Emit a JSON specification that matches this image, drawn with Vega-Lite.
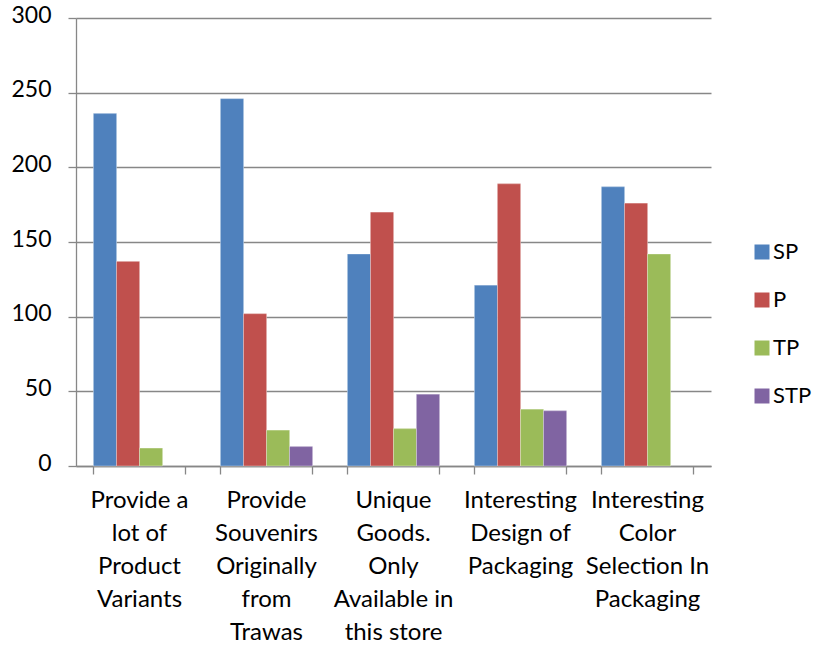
{
  "$schema": "https://vega.github.io/schema/vega-lite/v6.json",
  "autosize": {"type": "none"},
  "padding": {"left": 76, "top": 18, "right": 104, "bottom": 179},
  "width": 635,
  "height": 448,
  "background": "#ffffff",
  "config": {
    "view": {"stroke": null},
    "font": "Lato",
    "axis": {"labelFont": "Lato", "labelColor": "#000000", "titleFont": "Lato"},
    "legend": {"labelFont": "Lato"}
  },
  "data": {
    "values": [
      {"item": "Provide a|lot of|Product|Variants", "rating": "SP", "count": 236},
      {"item": "Provide a|lot of|Product|Variants", "rating": "P", "count": 137},
      {"item": "Provide a|lot of|Product|Variants", "rating": "TP", "count": 12},
      {"item": "Provide|Souvenirs|Originally|from|Trawas", "rating": "SP", "count": 246},
      {"item": "Provide|Souvenirs|Originally|from|Trawas", "rating": "P", "count": 102},
      {"item": "Provide|Souvenirs|Originally|from|Trawas", "rating": "TP", "count": 24},
      {"item": "Provide|Souvenirs|Originally|from|Trawas", "rating": "STP", "count": 13},
      {"item": "Unique|Goods.|Only|Available in|this store", "rating": "SP", "count": 142},
      {"item": "Unique|Goods.|Only|Available in|this store", "rating": "P", "count": 170},
      {"item": "Unique|Goods.|Only|Available in|this store", "rating": "TP", "count": 25},
      {"item": "Unique|Goods.|Only|Available in|this store", "rating": "STP", "count": 48},
      {"item": "Interesting|Design of|Packaging", "rating": "SP", "count": 121},
      {"item": "Interesting|Design of|Packaging", "rating": "P", "count": 189},
      {"item": "Interesting|Design of|Packaging", "rating": "TP", "count": 38},
      {"item": "Interesting|Design of|Packaging", "rating": "STP", "count": 37},
      {"item": "Interesting|Color|Selection In|Packaging", "rating": "SP", "count": 187},
      {"item": "Interesting|Color|Selection In|Packaging", "rating": "P", "count": 176},
      {"item": "Interesting|Color|Selection In|Packaging", "rating": "TP", "count": 142}
    ]
  },
  "encoding": {
    "xOffset": {
      "field": "rating",
      "type": "nominal",
      "scale": {"domain": ["SP", "P", "TP", "STP"], "paddingInner": 0, "paddingOuter": 0}
    },
    "y": {
      "field": "count",
      "type": "quantitative",
      "scale": {"domain": [0, 300], "nice": false},
      "axis": {
        "title": null,
        "values": [0, 50, 100, 150, 200, 250, 300],
        "labelFontSize": 23,
        "labelPadding": 17,
        "labelOffset": -3,
        "tickSize": 8,
        "tickColor": "#878787",
        "tickWidth": 1.3,
        "domainColor": "#878787",
        "domainWidth": 1.3,
        "grid": true,
        "gridColor": "#878787",
        "gridWidth": 1.3
      }
    },
    "color": {
      "field": "rating",
      "type": "nominal",
      "scale": {"domain": ["SP", "P", "TP", "STP"], "range": ["#4F81BD", "#C0504D", "#9BBB59", "#8064A2"]},
      "legend": {
        "title": null,
        "orient": "none",
        "legendX": 675,
        "legendY": 223,
        "symbolType": "square",
        "symbolSize": 225,
        "symbolStrokeWidth": 0,
        "labelFontSize": 22,
        "labelOffset": 0,
        "rowPadding": 26
      }
    }
  },
  "layer": [
    {
      "mark": {"type": "bar"},
      "encoding": {
        "x": {
          "field": "item",
          "type": "nominal",
          "sort": null,
          "scale": {"paddingInner": 0.2756, "paddingOuter": 0.1378},
          "axis": {
            "title": null,
            "orient": "bottom",
            "labels": false,
            "domain": false,
            "bandPosition": 1,
            "tickSize": 8,
            "tickColor": "#878787",
            "tickWidth": 1.3,
            "grid": false
          }
        }
      }
    },
    {
      "mark": {"type": "bar", "stroke": "#ffffff", "strokeOpacity": 0.35, "strokeWidth": 1},
      "encoding": {
        "x": {
          "field": "item",
          "type": "nominal",
          "sort": null,
          "scale": {"paddingInner": 0.2756, "paddingOuter": 0.1378},
          "axis": {
            "title": null,
            "orient": "bottom",
            "labelAngle": 0,
            "labelExpr": "split(datum.value, '|')",
            "labelFontSize": 24,
            "labelLineHeight": 33,
            "labelBaseline": "top",
            "labelPadding": 14,
            "labelLimit": 200,
            "bandPosition": 0,
            "tickSize": 8,
            "tickColor": "#878787",
            "tickWidth": 1.3,
            "domainColor": "#878787",
            "domainWidth": 1.3,
            "grid": false
          }
        }
      }
    }
  ],
  "resolve": {"axis": {"x": "independent"}}
}
